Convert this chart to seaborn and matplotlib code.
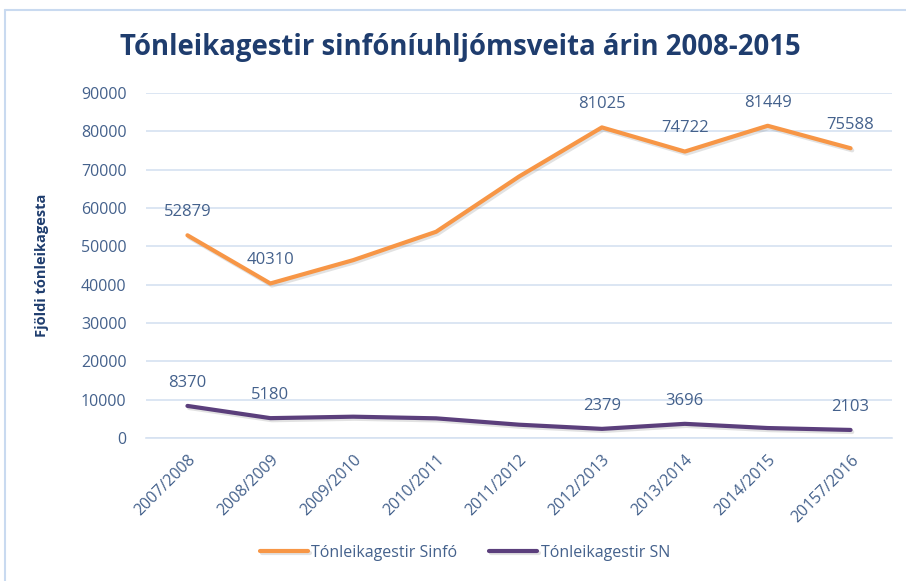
import matplotlib

matplotlib.use("Agg")

import matplotlib.pyplot as plt
import matplotlib.patheffects as pe
from matplotlib.lines import Line2D
import numpy as np
import pandas as pd
import seaborn as sns

seasons = ["2007/2008", "2008/2009", "2009/2010", "2010/2011", "2011/2012",
           "2012/2013", "2013/2014", "2014/2015", "20157/2016"]
sinfo = [52879, 40310, 46400, 53800, 68200, 81025, 74722, 81449, 75588]
sn = [8370, 5180, 5560, 5130, 3470, 2379, 3696, 2600, 2103]
sinfo_labeled = [True, True, False, False, False, True, True, True, True]
sn_labeled = [True, True, False, False, False, True, True, False, True]
series_names = ["Tónleikagestir Sinfó", "Tónleikagestir SN"]
series_colors = ["#F79646", "#5B3F7C"]

df = pd.DataFrame({
    "season": seasons * 2,
    "value": sinfo + sn,
    "series": [series_names[0]] * len(seasons) + [series_names[1]] * len(seasons),
})

sns.set_theme(style="white")
plt.rcParams["font.family"] = ["Open Sans", "DejaVu Sans"]

text_color = "#44618C"
navy = "#1F3D6E"
grid_color = "#D6E2F1"

fig, ax = plt.subplots(figsize=(9.06, 5.81), dpi=100)
fig.subplots_adjust(left=146 / 906, right=892 / 906, top=1 - 93 / 581, bottom=1 - 438 / 581)

# soft drop shadow like the original spreadsheet chart
shadow = [pe.SimpleLineShadow(offset=(1.2, -1.5), shadow_color="0.55", alpha=0.25), pe.Normal()]
sns.lineplot(data=df, x="season", y="value", hue="series", palette=series_colors,
             sort=False, linewidth=3, ax=ax, path_effects=shadow)

for vals, flags in [(sinfo, sinfo_labeled), (sn, sn_labeled)]:
    for s, v, f in zip(seasons, vals, flags):
        if f:
            ax.annotate(str(v), (s, v), xytext=(0, 11), textcoords="offset points",
                        ha="center", va="bottom", fontsize=12, color=text_color)

ax.set_ylim(0, 90000)
ax.set_xlim(-0.5, len(seasons) - 0.5)
ax.set_yticks(np.arange(0, 90001, 10000))
ax.yaxis.grid(True, color=grid_color, linewidth=1.2)
ax.set_axisbelow(True)
for side in ["top", "right", "left"]:
    ax.spines[side].set_visible(False)
ax.spines["bottom"].set_color(grid_color)
ax.spines["bottom"].set_linewidth(1.2)

ax.set_xticks(range(len(seasons)))
ax.set_xticklabels(seasons, rotation=45, ha="right", rotation_mode="anchor")
ax.set_xticks(np.arange(-0.5, len(seasons), 1.0), minor=True)
ax.tick_params(axis="x", which="major", length=0, pad=10, labelsize=11.5, labelcolor=text_color)
ax.tick_params(axis="x", which="minor", length=5, width=1.2, color=grid_color, direction="out")
ax.tick_params(axis="y", length=0, pad=14, labelsize=11.5, labelcolor=text_color)

ax.set_xlabel("")
ax.set_ylabel("Fjöldi tónleikagesta", fontsize=10.5, fontweight="bold", color=navy)
ax.yaxis.set_label_coords(-97 / 746, 0.5)

fig.text(460 / 906, 1 - 47 / 581, "Tónleikagestir sinfóníuhljómsveita árin 2008-2015",
         ha="center", va="center", fontsize=19.8, fontweight="bold", color=navy)

leg = ax.legend(loc="center", bbox_to_anchor=(465 / 906, 1 - 553 / 581),
                bbox_transform=fig.transFigure, ncol=2, frameon=False,
                fontsize=11.5, handlelength=3, handletextpad=0.2, columnspacing=2.0)
for t in leg.get_texts():
    t.set_color(text_color)
for h in leg.get_lines():
    h.set_linewidth(3)

# light chart-area border (top and left edges visible in the crop)
fig.add_artist(Line2D([5 / 906, 1], [1 - 10 / 581, 1 - 10 / 581], transform=fig.transFigure,
                      color="#C9DAF0", linewidth=1.5))
fig.add_artist(Line2D([5 / 906, 5 / 906], [0, 1 - 10 / 581], transform=fig.transFigure,
                      color="#C9DAF0", linewidth=1.5))

fig.savefig("out.png", dpi=100, facecolor="white")
